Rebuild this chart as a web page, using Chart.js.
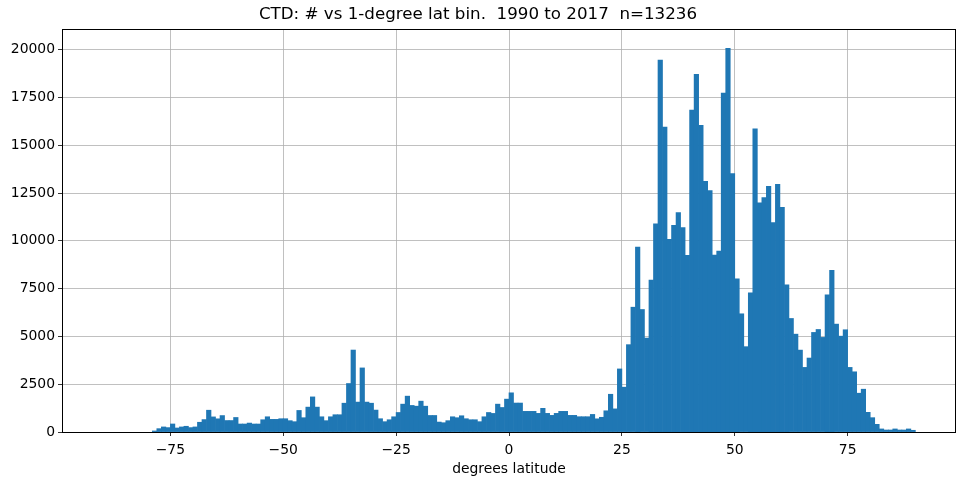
<!DOCTYPE html>
<html>
<head>
<meta charset="utf-8">
<script src="https://cdn.jsdelivr.net/npm/chart.js@4.4.1/dist/chart.umd.min.js"></script>
<style>
  html, body { margin: 0; padding: 0; background: #fff; }
  #wrap { width: 958px; height: 480px; }
</style>
</head>
<body>
<div id="wrap"><canvas id="histChart" width="958" height="480"></canvas></div>
<script>
// 1-degree latitude bins, first bin starts at -90
const binStart = -90;

// counts per bin, -90 .. 89
const counts = [
    0, 0, 0, 0, 0, 0, 0, 0, 0, 0, 0,                       // -90 .. -80
    55, 175, 265, 230, 420, 210, 265, 300, 230, 265,       // -79 .. -70
    510, 650, 1140, 790, 690, 860, 600, 600, 760, 418,     // -69 .. -60
    418, 467, 418, 418, 642, 797, 661, 661, 695, 695,      // -59 .. -50
    593, 540, 1128, 748, 1302, 1837, 1302, 797, 593, 797,  // -49 .. -40
    904, 904, 1507, 2537, 4288, 1565, 3353, 1565, 1507, 1147, // -39 .. -30
    695, 540, 642, 797, 1021, 1458, 1876, 1390, 1351, 1614,   // -29 .. -20
    1351, 865, 865, 520, 486, 593, 797, 748, 850, 695,     // -19 .. -10
    642, 642, 540, 797, 1021, 972, 1458, 1283, 1720,       // -9 .. -1
    2050, 1515, 1515, 1080, 1080, 1080, 975, 1240, 975, 870, // 0 .. 9
    975, 1080, 1080, 870, 870, 800, 800, 800, 920, 690,    // 10 .. 19
    770, 1110, 1975, 1210, 3300, 2345, 4570, 6530, 9675, 6410, // 20 .. 29
    4915, 7955, 10890, 19455, 15960, 10075, 10820, 11480, 10700, 9240, // 30 .. 39
    16850, 18710, 16050, 13115, 12630, 9260, 9465, 17735, 20080, 13515, // 40 .. 49
    8010, 6185, 4465, 7280, 15860, 11985, 12260, 12855, 10960, 12960, // 50 .. 59
    11750, 7700, 5940, 5120, 4285, 3380, 3870, 5210, 5365, 4950, // 60 .. 69
    7180, 8465, 5645, 5015, 5350, 3380, 3150, 2030, 2240, 1030, // 70 .. 79
    750, 400, 160, 105, 105, 160, 105, 105, 160, 90        // 80 .. 89
];

const xTicks = [-75, -50, -25, 0, 25, 50, 75];
const yTicks = [0, 2500, 5000, 7500, 10000, 12500, 15000, 17500, 20000];

const titleText = 'CTD: # vs 1-degree lat bin.  1990 to 2017  n=13236';
const xLabel = 'degrees latitude';

const FONT = 'DejaVu Sans';

// histogram points at bin centres (empty bins are left out so nothing is drawn)
const points = counts.map((c, i) => ({ x: binStart + i + 0.5, y: c > 0 ? c : null }));

const minusSign = (v) => String(v).replace('-', '\u2212');

// matplotlib-style black frame around the axes
const framePlugin = {
    id: 'frame',
    afterDraw(chart) {
        const { ctx, chartArea } = chart;
        ctx.save();
        ctx.strokeStyle = '#000';
        ctx.lineWidth = 1;
        ctx.strokeRect(Math.round(chartArea.left) + 0.5, Math.round(chartArea.top) + 0.5,
            Math.round(chartArea.right - chartArea.left) - 1, Math.round(chartArea.bottom - chartArea.top));
        ctx.restore();
    }
};

const ctx = document.getElementById('histChart');
new Chart(ctx, {
    type: 'bar',
    data: {
        datasets: [{
            data: points,
            backgroundColor: '#1f77b4',
            borderWidth: 0,
            barPercentage: 1,
            categoryPercentage: 1
        }]
    },
    options: {
        responsive: false,
        animation: false,
        layout: { padding: { left: 0, right: 2, top: 0, bottom: 0 } },
        plugins: {
            legend: { display: false },
            tooltip: { enabled: false },
            title: {
                display: true,
                text: titleText,
                color: '#000',
                font: { family: FONT, size: 16.7, weight: 'normal' },
                padding: { top: 5, bottom: 4 }
            }
        },
        scales: {
            x: {
                type: 'linear',
                min: -99,
                max: 99,
                offset: false,
                z: 1,
                grid: { offset: false, color: '#b0b0b0', lineWidth: 0.8, tickColor: '#000', tickLength: 4 },
                border: { display: false },
                afterBuildTicks: (axis) => { axis.ticks = xTicks.map(v => ({ value: v })); },
                afterFit: (axis) => { axis.height = 48; },
                ticks: {
                    color: '#000',
                    padding: 6,
                    maxRotation: 0,
                    font: { family: FONT, size: 13.9 },
                    callback: (v) => minusSign(v)
                },
                title: {
                    display: true,
                    text: xLabel,
                    color: '#000',
                    font: { family: FONT, size: 13.9 },
                    padding: { top: 0, bottom: 2 }
                }
            },
            y: {
                type: 'linear',
                min: 0,
                max: 21084,
                z: 1,
                grid: { color: '#b0b0b0', lineWidth: 0.8, tickColor: '#000', tickLength: 4 },
                border: { display: false },
                afterBuildTicks: (axis) => { axis.ticks = yTicks.map(v => ({ value: v })); },
                afterFit: (axis) => { axis.width = 62; },
                ticks: {
                    color: '#000',
                    padding: 3,
                    font: { family: FONT, size: 13.9 },
                    callback: (v) => String(v)
                }
            }
        }
    },
    plugins: [framePlugin]
});
</script>
</body>
</html>
